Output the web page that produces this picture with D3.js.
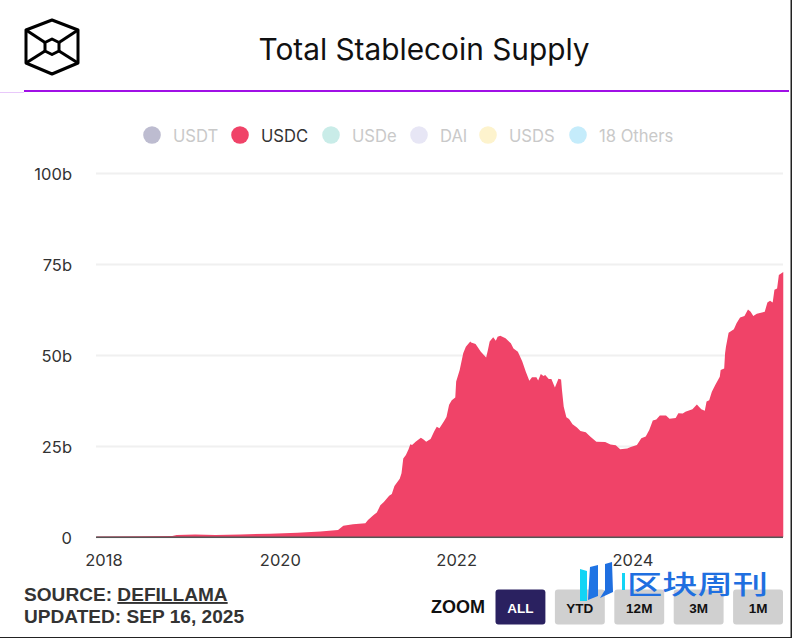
<!DOCTYPE html>
<html>
<head>
<meta charset="utf-8">
<script src="https://cdn.jsdelivr.net/npm/d3@7"></script>
<style>
  html, body { margin: 0; padding: 0; background: #fff; }
  svg { display: block; }
  text { font-family: Inter, "Noto Sans", sans-serif; }
  .bold { font-family: "Liberation Sans", Arial, sans-serif; font-weight: 700; }
</style>
</head>
<body>
<div id="chart"></div>
<script>
// Declare constants
const canvas = { w: 792, h: 638 };
const plot = { left: 96, right: 783, top: 173, bottom: 537 };

// Data
const years = [
  2017.92, 2018.42, 2018.78, 2018.83, 2019.04, 2019.27, 2019.55, 2019.89, 2020.20, 2020.46,
  2020.66, 2020.72, 2020.83, 2020.97, 2021.00, 2021.06, 2021.10, 2021.14, 2021.18, 2021.24,
  2021.27, 2021.30, 2021.36, 2021.38, 2021.40, 2021.43, 2021.46, 2021.48, 2021.50, 2021.54,
  2021.60, 2021.63, 2021.66, 2021.71, 2021.75, 2021.78, 2021.81, 2021.86, 2021.89, 2021.92,
  2021.95, 2021.99, 2022.00, 2022.04, 2022.08, 2022.11, 2022.16, 2022.17, 2022.22, 2022.28,
  2022.34, 2022.36, 2022.38, 2022.42, 2022.45, 2022.47, 2022.50, 2022.56, 2022.62, 2022.65,
  2022.70, 2022.75, 2022.79, 2022.83, 2022.86, 2022.91, 2022.93, 2022.96, 2022.99, 2023.01,
  2023.05, 2023.08, 2023.12, 2023.16, 2023.19, 2023.20, 2023.22, 2023.25, 2023.28, 2023.32,
  2023.37, 2023.41, 2023.47, 2023.52, 2023.59, 2023.69, 2023.75, 2023.81, 2023.86, 2023.94,
  2023.98, 2024.05, 2024.10, 2024.15, 2024.19, 2024.23, 2024.27, 2024.31, 2024.38, 2024.42,
  2024.49, 2024.52, 2024.57, 2024.60, 2024.68, 2024.73, 2024.78, 2024.82, 2024.84, 2024.87,
  2024.90, 2024.94, 2024.99, 2025.00, 2025.04, 2025.05, 2025.06, 2025.09, 2025.15, 2025.18,
  2025.22, 2025.27, 2025.31, 2025.34, 2025.37, 2025.41, 2025.50, 2025.53, 2025.56, 2025.59,
  2025.61, 2025.64, 2025.66, 2025.71
];
const usdcSupply = [
  0.15, 0.2, 0.25, 0.55, 0.7, 0.55, 0.7, 0.9, 1.2, 1.5,
  1.9, 3.1, 3.5, 3.8, 4.7, 6.0, 6.7, 8.7, 9.6, 11.3,
  11.8, 14.0, 16.0, 17.5, 21.6, 22.5, 24.1, 25.5, 25.3, 26.2,
  27.3, 26.8, 26.2, 26.9, 29.0, 30.3, 29.9, 31.7, 33.0, 36.3,
  37.6, 38.3, 42.7, 45.9, 50.5, 52.3, 53.7, 53.4, 53.0, 50.9,
  49.3, 51.4, 53.7, 54.9, 53.9, 55.0, 55.3, 54.6, 53.2, 51.8,
  50.9, 48.2, 45.4, 42.9, 43.9, 43.9, 43.0, 44.8, 44.2, 44.5,
  43.4, 43.4, 41.1, 43.5, 43.3, 40.4, 35.8, 32.9, 32.4, 31.0,
  30.1, 29.1, 28.8, 27.6, 26.2, 26.1, 25.4, 25.2, 24.1, 24.3,
  24.7, 25.3, 27.1, 27.6, 29.4, 32.0, 32.3, 33.4, 33.4, 32.5,
  32.7, 34.0, 33.9, 34.4, 35.1, 36.4, 35.1, 34.7, 37.2, 37.6,
  39.9, 41.8, 44.0, 45.9, 46.3, 50.5, 52.3, 56.1, 57.1, 58.7,
  60.3, 60.7, 62.5, 61.9, 60.7, 61.3, 61.9, 64.4, 64.9, 64.4,
  67.9, 68.3, 72.0, 72.8
];
const yTicks = [0, 25, 50, 75, 100];
const xTicks = [2018, 2020, 2022, 2024];
const legendNames = ["USDT", "USDC", "USDe", "DAI", "USDS", "18 Others"];
const legendColors = ["#bdbcd0", "#f04368", "#c9ece8", "#e7e6f5", "#fdf3cd", "#c5ecfb"];
const legendActive = "USDC";
const zoomLabels = ["ALL", "YTD", "12M", "3M", "1M"];

// Scales
const x = d3.scaleLinear().domain([2018, 2024]).range([103.5, 632.5]);
const y = d3.scaleLinear().domain([0, 100]).range([plot.bottom, plot.top]);

const svg = d3.select("#chart")
  .append("svg")
  .attr("width", canvas.w)
  .attr("height", canvas.h)
  .attr("viewBox", `0 0 ${canvas.w} ${canvas.h}`);

// Header: logo, title, rule
const outerHex = [[52, 20], [78, 30], [78, 63], [52, 74], [26, 63], [26, 30]];
const innerHex = [[52, 39], [59, 42.5], [59, 51], [52, 54.5], [45, 51], [45, 42.5]];
const logo = svg.append("g")
  .attr("fill", "none")
  .attr("stroke", "#000")
  .attr("stroke-width", 3)
  .attr("stroke-linejoin", "round");
logo.append("path").attr("d", d3.line()(outerHex) + "Z");
logo.append("path").attr("d", d3.line()(innerHex) + "Z");
[1, 2, 4, 5].forEach(i => {
  logo.append("path").attr("d", d3.line()([outerHex[i], innerHex[i]]));
});

svg.append("text")
  .attr("x", 424)
  .attr("y", 60)
  .attr("text-anchor", "middle")
  .attr("font-size", 29.8)
  .attr("fill", "#111")
  .text("Total Stablecoin Supply");

svg.append("rect").attr("x", 0).attr("y", 92).attr("width", 24).attr("height", 1).attr("fill", "#e8c8fa");
svg.append("rect").attr("x", 24).attr("y", 90).attr("width", 765).attr("height", 2).attr("fill", "#a010e6");

// Legend
const legendCircleX = [152, 240, 331, 419, 488, 578];
const legend = svg.append("g")
  .selectAll("g")
  .data(legendNames)
  .join("g")
  .attr("transform", (d, i) => `translate(${legendCircleX[i]},135)`);
legend.append("circle")
  .attr("r", 8.8)
  .attr("fill", (d, i) => legendColors[i]);
legend.append("text")
  .attr("x", 21)
  .attr("y", 6.5)
  .attr("font-size", 16.6)
  .attr("fill", d => d === legendActive ? "#333" : "#c9c9c9")
  .text(d => d);

// Grid lines and y axis
const yAxis = svg.append("g")
  .attr("transform", `translate(${plot.left},0)`)
  .call(d3.axisLeft(y)
    .tickValues(yTicks)
    .tickSize(-(plot.right - plot.left))
    .tickPadding(24)
    .tickFormat(d => d === 0 ? "0" : `${d}b`));
yAxis.select(".domain").remove();
yAxis.selectAll(".tick line").attr("stroke", "#f0f0f0").attr("stroke-width", 2);
yAxis.selectAll(".tick text")
  .attr("font-size", 16.5)
  .attr("dy", "0.42em")
  .attr("fill", "#333")
  .style("font-family", "Inter");

// Supply area
const supply = years.map((d, i) => ({ year: d, value: usdcSupply[i] }));
const area = d3.area()
  .x(d => x(d.year))
  .y0(y(0))
  .y1(d => y(d.value));
svg.append("path")
  .datum(supply)
  .attr("d", area)
  .attr("fill", "#f04368");

// Baseline and x axis
const xAxis = svg.append("g")
  .attr("transform", `translate(0,${plot.bottom})`)
  .call(d3.axisBottom(x)
    .tickValues(xTicks)
    .tickSize(0)
    .tickPadding(17)
    .tickFormat(d3.format("d")));
xAxis.select(".domain").remove();
xAxis.selectAll(".tick text")
  .attr("font-size", 16.5)
  .attr("fill", "#333")
  .style("font-family", "Inter");
svg.append("rect")
  .attr("x", plot.left)
  .attr("y", plot.bottom - 0.5)
  .attr("width", plot.right - plot.left)
  .attr("height", 1.5)
  .attr("fill", "#555");

// Footer
const source = svg.append("text")
  .attr("class", "bold")
  .attr("x", 24)
  .attr("y", 601)
  .attr("font-size", 19.1)
  .attr("fill", "#333");
source.append("tspan").text("SOURCE: ");
source.append("tspan").attr("text-decoration", "underline").text("DEFILLAMA");
svg.append("text")
  .attr("class", "bold")
  .attr("x", 24)
  .attr("y", 623)
  .attr("font-size", 19.1)
  .attr("fill", "#333")
  .text("UPDATED: SEP 16, 2025");

// Zoom buttons
svg.append("text")
  .attr("class", "bold")
  .attr("x", 431)
  .attr("y", 613)
  .attr("font-size", 18)
  .attr("fill", "#111")
  .text("ZOOM");
const buttonX = d3.scaleBand().domain(zoomLabels).range([495.5, 783]).paddingInner(0.16);
const buttons = svg.append("g")
  .selectAll("g")
  .data(zoomLabels)
  .join("g")
  .attr("transform", d => `translate(${buttonX(d)},589.5)`);
buttons.append("rect")
  .attr("width", buttonX.bandwidth())
  .attr("height", 35)
  .attr("rx", 3)
  .attr("fill", (d, i) => i === 0 ? "#2a2160" : "#d0d0d0");
buttons.append("text")
  .attr("class", "bold")
  .attr("x", buttonX.bandwidth() / 2)
  .attr("y", 23)
  .attr("text-anchor", "middle")
  .attr("font-size", 13.5)
  .attr("fill", (d, i) => i === 0 ? "#fff" : "#111")
  .text(d => d);

// Watermark
const mark = svg.append("g");
mark.append("path")
  .attr("d", "M580 569L587 571L587 601L580 601Z")
  .attr("fill", "#12d4f5");
mark.append("path")
  .attr("d", "M590 567L598 565L598 596L588 600Z")
  .attr("fill", "#1f74e4");
mark.append("path")
  .attr("d", "M605 564L612 562L613 592L600 598L605 590Z")
  .attr("fill", "#1f6fe0");
mark.append("rect").attr("x", 622).attr("y", 573).attr("width", 3).attr("height", 17).attr("fill", "#12d4f5");
mark.append("text")
  .attr("x", 627)
  .attr("y", 593.5)
  .attr("font-size", 26)
  .attr("textLength", 141)
  .attr("lengthAdjust", "spacingAndGlyphs")
  .attr("font-weight", 500)
  .attr("fill", "#1f6fe0")
  .style("font-family", '"Noto Sans CJK SC"')
  .text("区块周刊");

// Screenshot border
svg.append("rect").attr("x", 790.5).attr("y", 0).attr("width", 1.5).attr("height", canvas.h).attr("fill", "#222");
svg.append("rect").attr("x", 0).attr("y", 637).attr("width", canvas.w).attr("height", 1).attr("fill", "#222");
</script>
</body>
</html>
